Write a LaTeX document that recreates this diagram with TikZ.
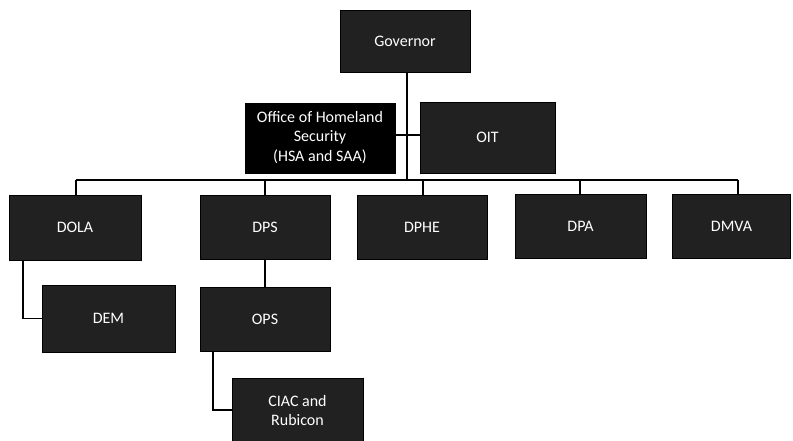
\documentclass[tikz,border=0pt]{standalone}
\usepackage{fontspec}
\setmainfont{Carlito}
\begin{document}
\begin{tikzpicture}[x=1pt,y=-1pt,
  box/.style={draw=black,line width=0.8pt,fill=black!87,text=white,rectangle,
    inner sep=0pt,align=center,font=\fontsize{16}{19}\selectfont},
  link/.style={line width=1.6pt,black}]
\useasboundingbox (0,0) rectangle (793,440);
\node[box,minimum width=130,minimum height=62] (gov) at (405,41) {Governor};
\node[box,fill=black,minimum width=150,minimum height=70] (ohs) at (320,138) {Office of Homeland\\Security\\[1pt](HSA and SAA)};
\node[box,minimum width=135,minimum height=71] (oit) at (487.5,137.5) {OIT};
\node[box,minimum width=132,minimum height=65] (dola) at (75,227.5) {DOLA};
\node[box,minimum width=130,minimum height=64] (dps) at (265,227) {DPS};
\node[box,minimum width=130,minimum height=64] (dphe) at (422,227) {DPHE};
\node[box,minimum width=131,minimum height=64] (dpa) at (580.5,226) {DPA};
\node[box,minimum width=118,minimum height=64] (dmva) at (731.5,226) {DMVA};
\node[box,minimum width=133,minimum height=67] (dem) at (108.5,318.5) {DEM};
\node[box,minimum width=130,minimum height=64] (ops) at (265,319) {OPS};
\node[box,minimum width=131,minimum height=64] (ciac) at (297.5,410) {CIAC and\\Rubicon};
\coordinate (busL) at (76,180);
\coordinate (busR) at (738,180);
\coordinate (gv) at (407,180);
\coordinate (mid) at (407,135);
\coordinate (demtop) at (23,260);
\coordinate (opstop) at (213,351);
\draw[link] (gov.south -| gv) -- (gv);
\draw[link] (ohs.east |- mid) -- (oit.west |- mid);
\draw[link] (busL) -- (busR);
\draw[link] (busL) -- (busL |- dola.north);
\draw[link] (dps.north |- busL) -- (dps.north);
\draw[link] (423,180) -- (423,195);
\draw[link] (580,180) -- (580,194);
\draw[link] (busR) -- (busR |- dmva.north);
\draw[link] (demtop |- dola.south) -- (demtop |- dem.west) -- (dem.west);
\draw[link] (dps.south) -- (ops.north);
\draw[link] (opstop |- ops.south) -- (opstop |- ciac.west) -- (ciac.west);
\end{tikzpicture}
\end{document}
